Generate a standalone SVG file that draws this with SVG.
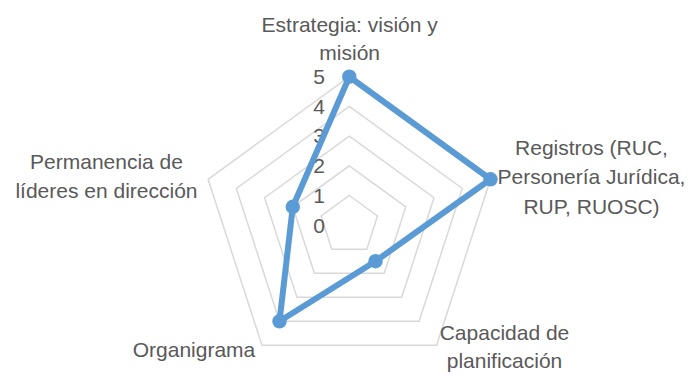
<svg xmlns="http://www.w3.org/2000/svg" width="688" height="376" viewBox="0 0 688 376">
<style>
  .grid { fill: none; stroke: #D9D9D9; stroke-width: 1.5; }
  .lbl { font-family: "Liberation Sans", Arial, sans-serif; font-size: 21px; fill: #595959; text-anchor: middle; }
  .tick { font-family: "Liberation Sans", Arial, sans-serif; font-size: 21px; fill: #595959; text-anchor: end; }
  .series { fill: none; stroke: #5B9BD5; stroke-width: 6; stroke-linejoin: round; }
  .dot { fill: #5B9BD5; }
</style>
<rect width="688" height="376" fill="#FFFFFF"/>
<g id="grid">
  <polygon class="grid" points="349.3,195.5 377.5,216.0 366.8,249.2 331.8,249.2 321.1,216.0"/>
  <polygon class="grid" points="349.3,165.8 405.8,206.8 384.2,273.3 314.4,273.3 292.8,206.8"/>
  <polygon class="grid" points="349.3,136.1 434.0,197.7 401.7,297.3 296.9,297.3 264.6,197.7"/>
  <polygon class="grid" points="349.3,106.4 462.3,188.5 419.1,321.3 279.5,321.3 236.3,188.5"/>
  <polygon class="grid" points="349.3,76.7 490.5,179.3 436.6,345.3 262.0,345.3 208.1,179.3"/>
</g>
<g id="ticks">
  <text class="tick" x="325" y="84">5</text>
  <text class="tick" x="325" y="113.5">4</text>
  <text class="tick" x="325" y="143.3">3</text>
  <text class="tick" x="325" y="173">2</text>
  <text class="tick" x="325" y="202.7">1</text>
  <text class="tick" x="325" y="232.5">0</text>
</g>
<g id="connectors">
  <polygon class="series" points="349.3,76.7 490.5,179.3 375.5,261.2 279.5,321.3 292.8,206.8"/>
</g>
<g id="node-estrategia">
  <circle class="dot" cx="349.3" cy="76.7" r="7.2"/>
  <text class="lbl" x="349.7" y="32">Estrategia: visión y</text>
  <text class="lbl" x="349.7" y="60">misión</text>
</g>
<g id="node-registros">
  <circle class="dot" cx="490.5" cy="179.3" r="7.2"/>
  <text class="lbl" x="591.5" y="155">Registros (RUC,</text>
  <text class="lbl" x="591.5" y="184.3">Personería Jurídica,</text>
  <text class="lbl" x="591.5" y="213.6">RUP, RUOSC)</text>
</g>
<g id="node-capacidad">
  <circle class="dot" cx="375.5" cy="261.2" r="7.2"/>
  <text class="lbl" x="504.5" y="340">Capacidad de</text>
  <text class="lbl" x="504.5" y="368">planificación</text>
</g>
<g id="node-organigrama">
  <circle class="dot" cx="279.5" cy="321.3" r="7.2"/>
  <text class="lbl" x="194" y="356.7">Organigrama</text>
</g>
<g id="node-permanencia">
  <circle class="dot" cx="292.8" cy="206.8" r="7.2"/>
  <text class="lbl" x="106.5" y="169.3">Permanencia de</text>
  <text class="lbl" x="106.5" y="198.3">líderes en dirección</text>
</g>
</svg>
